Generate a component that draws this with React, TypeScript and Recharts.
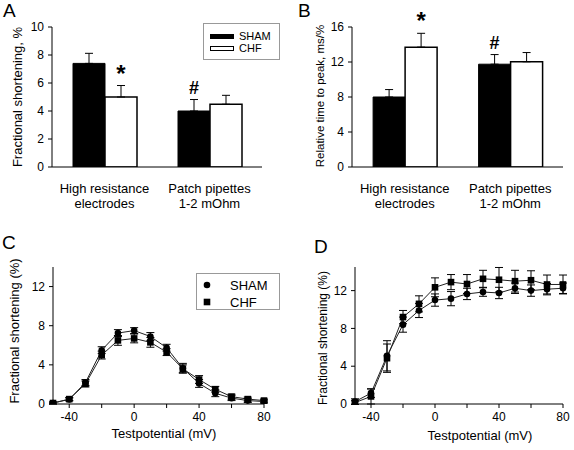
import React from "react";
import { Bar, BarChart, ErrorBar, LabelList, Legend, Line, LineChart, XAxis, YAxis } from "recharts";

const FONT = "'Liberation Sans', Arial, sans-serif";

// categories for panels A and B
const methods = ["High resistance\nelectrodes", "Patch pipettes\n1-2 mOhm"];

// A: fractional shortening, %
const fsSham = [7.4, 4.0];
const fsShamErr = [0.72, 0.82];
const fsChf = [5.0, 4.48];
const fsChfErr = [0.82, 0.64];
const fsShamMark = ["", "#"];
const fsChfMark = ["*", ""];

// B: relative time to peak, ms/%
const ttpSham = [8.0, 11.75];
const ttpShamErr = [0.85, 1.1];
const ttpChf = [13.7, 12.03];
const ttpChfErr = [1.58, 1.05];
const ttpShamMark = ["", "#"];
const ttpChfMark = ["*", ""];

// C and D: test potentials (mV)
const potentials = [-50, -40, -30, -20, -10, 0, 10, 20, 30, 40, 50, 60, 70, 80];
const cSham = [0.1, 0.47, 2.2, 5.5, 7.25, 7.5, 6.9, 5.75, 3.65, 2.1, 1.1, 0.6, 0.35, 0.25];
const cShamErr = [0.1, 0.15, 0.3, 0.35, 0.35, 0.3, 0.4, 0.35, 0.5, 0.4, 0.35, 0.25, 0.2, 0.15];
const cChf = [0.1, 0.5, 2.05, 5.0, 6.5, 6.7, 6.3, 5.3, 3.6, 2.5, 1.5, 0.75, 0.5, 0.35];
const cChfErr = [0.1, 0.15, 0.3, 0.4, 0.5, 0.45, 0.5, 0.35, 0.4, 0.4, 0.3, 0.25, 0.2, 0.15];
const dSham = [0.25, 1.15, 5.1, 8.4, 9.9, 11.0, 11.15, 11.65, 11.85, 11.75, 12.25, 12.0, 12.15, 12.25];
const dShamErr = [0.3, 0.45, 1.6, 0.8, 0.75, 0.65, 0.75, 0.6, 0.45, 0.6, 0.55, 0.6, 0.6, 0.55];
const dChf = [0.15, 0.8, 4.85, 9.2, 10.6, 12.35, 12.9, 12.7, 13.25, 13.15, 13.0, 13.1, 12.65, 12.65];
const dChfErr = [0.2, 0.8, 1.5, 0.7, 0.85, 1.0, 0.8, 1.0, 0.9, 1.3, 1.15, 1.0, 1.0, 1.0];

const xTicks = [-40, -20, 0, 20, 40, 60, 80];

function barRows(sham: number[], shamErr: number[], chf: number[], chfErr: number[], shamMark: string[], chfMark: string[]) {
  return methods.map((m, i) => ({
    method: m,
    sham: sham[i],
    shamErr: [0, shamErr[i]],
    chf: chf[i],
    chfErr: [0, chfErr[i]],
    shamMark: shamMark[i],
    chfMark: chfMark[i],
  }));
}

function lineRows(sham: number[], shamErr: number[], chf: number[], chfErr: number[]) {
  return potentials.map((v, i) => ({ v, sham: sham[i], shamErr: shamErr[i], chf: chf[i], chfErr: chfErr[i] }));
}

const dataA = barRows(fsSham, fsShamErr, fsChf, fsChfErr, fsShamMark, fsChfMark);
const dataB = barRows(ttpSham, ttpShamErr, ttpChf, ttpChfErr, ttpShamMark, ttpChfMark);
const dataC = lineRows(cSham, cShamErr, cChf, cChfErr);
const dataD = lineRows(dSham, dShamErr, dChf, dChfErr);

const numTick = { fill: "#000", fontSize: 12, fontFamily: FONT };

const MethodTick = (props: any) => {
  const { x, y, payload } = props;
  const [l1, l2] = String(payload.value).split("\n");
  return (
    <text x={x} y={y} textAnchor="middle" fontSize={13} fill="#000" fontFamily={FONT}>
      <tspan x={x} dy={26}>{l1}</tspan>
      <tspan x={x} dy={15}>{l2}</tspan>
    </text>
  );
};

// significance mark placed just above the error bar of a bar
const markContent = (vals: number[], errs: number[]) => (props: any) => {
  const { index, value } = props;
  if (!value) return null;
  const vb = props.viewBox || {};
  const x = props.x ?? vb.x;
  const y = props.y ?? vb.y;
  const w = props.width ?? vb.width;
  const h = props.height ?? vb.height;
  const top = y - (errs[index] * h) / vals[index];
  const star = value === "*";
  return (
    <text x={x + w / 2} y={top - (star ? 4 : 6)} textAnchor="middle" fontSize={star ? 24 : 18} fontWeight="bold" fontFamily={FONT} fill="#000">
      {value}
    </text>
  );
};

const SquareDot = (p: any) => {
  if (p.cx == null || p.cy == null) return null;
  return <rect key={p.key} x={p.cx - 3.3} y={p.cy - 3.3} width={6.6} height={6.6} fill="#000" />;
};

const BarLegend = () => (
  <div style={{ width: 77, height: 37, border: "1px solid #999", boxSizing: "border-box", background: "#fff" }}>
    <svg width={75} height={35} style={{ display: "block" }}>
      <rect x={6.5} y={10.5} width={23} height={4} fill="#000" stroke="#000" />
      <text x={35} y={16} fontSize={11} fontFamily={FONT} fill="#000">SHAM</text>
      <rect x={6.5} y={22.5} width={23} height={4} fill="#fff" stroke="#000" />
      <text x={35} y={28} fontSize={11} fontFamily={FONT} fill="#000">CHF</text>
    </svg>
  </div>
);

const LineLegend = () => (
  <div style={{ width: 84, height: 37, border: "1px solid #999", boxSizing: "border-box", background: "#fff" }}>
    <svg width={82} height={35} style={{ display: "block" }}>
      <circle cx={10} cy={11} r={3.3} fill="#000" />
      <text x={33} y={15.5} fontSize={13} fontFamily={FONT} fill="#000">SHAM</text>
      <rect x={6.7} y={24.7} width={6.6} height={6.6} fill="#000" />
      <text x={33} y={32.5} fontSize={13} fontFamily={FONT} fill="#000">CHF</text>
    </svg>
  </div>
);

function BarPanel(props: { data: any[]; yWidth: number; right: number; max: number; ticks: number[]; sham: number[]; shamErr: number[]; chf: number[]; chfErr: number[]; legend?: boolean }) {
  return (
    <BarChart
      width={287}
      height={225}
      data={props.data}
      margin={{ top: 27, right: props.right, left: 0, bottom: 18 }}
      barGap={0}
      barCategoryGap="20%"
    >
      <XAxis dataKey="method" tick={<MethodTick />} tickLine={false} tickSize={0} tickMargin={0} height={40} axisLine={{ stroke: "#000" }} interval={0} />
      <YAxis
        width={props.yWidth}
        domain={[0, props.max]}
        ticks={props.ticks}
        tick={numTick}
        tickSize={4}
        tickMargin={4}
        axisLine={{ stroke: "#000" }}
        tickLine={{ stroke: "#000" }}
        allowDataOverflow
      />
      {props.legend && (
        <Legend
          layout="horizontal"
          verticalAlign="middle"
          align="center"
          wrapperStyle={{ left: 203, top: 23, width: 77, height: 37 }}
          content={() => <BarLegend />}
        />
      )}
      <Bar dataKey="sham" name="SHAM" fill="#000" stroke="#000" strokeWidth={1} isAnimationActive={false}>
        <ErrorBar dataKey="shamErr" width={4} stroke="#000" strokeWidth={1} direction="y" />
        <LabelList dataKey="shamMark" content={markContent(props.sham, props.shamErr)} />
      </Bar>
      <Bar dataKey="chf" name="CHF" fill="#fff" stroke="#000" strokeWidth={1.5} isAnimationActive={false}>
        <ErrorBar dataKey="chfErr" width={4} stroke="#000" strokeWidth={1} direction="y" />
        <LabelList dataKey="chfMark" content={markContent(props.chf, props.chfErr)} />
      </Bar>
    </BarChart>
  );
}

function LinePanel(props: { data: any[]; yWidth: number; right: number; max: number; legend?: boolean }) {
  return (
    <LineChart width={287} height={225} data={props.data} margin={{ top: 42, right: props.right, left: 0, bottom: 16 }}>
      <XAxis
        dataKey="v"
        type="number"
        domain={[-50, 80]}
        ticks={xTicks}
        interval={0}
        tickFormatter={(v: number) => (v % 40 === 0 ? String(v) : "")}
        tick={numTick}
        tickSize={4}
        tickMargin={4}
        height={30}
        axisLine={{ stroke: "#000" }}
        tickLine={{ stroke: "#000" }}
      />
      <YAxis
        width={props.yWidth}
        domain={[0, props.max]}
        ticks={[0, 4, 8, 12]}
        tick={numTick}
        tickSize={4}
        tickMargin={4}
        axisLine={{ stroke: "#000" }}
        tickLine={{ stroke: "#000" }}
        allowDataOverflow
      />
      {props.legend && (
        <Legend
          layout="horizontal"
          verticalAlign="middle"
          align="center"
          wrapperStyle={{ left: 196, top: 48, width: 84, height: 37 }}
          content={() => <LineLegend />}
        />
      )}
      <Line dataKey="chf" name="CHF" stroke="#222" strokeWidth={1} dot={SquareDot} activeDot={false} isAnimationActive={false}>
        <ErrorBar dataKey="chfErr" width={4} stroke="#000" strokeWidth={1} direction="y" />
      </Line>
      <Line dataKey="sham" name="SHAM" stroke="#222" strokeWidth={1} dot={{ r: 3.3, fill: "#000", stroke: "#000", strokeWidth: 0 }} activeDot={false} isAnimationActive={false}>
        <ErrorBar dataKey="shamErr" width={4} stroke="#000" strokeWidth={1} direction="y" />
      </Line>
    </LineChart>
  );
}

const titleStyle = { fontFamily: FONT, fill: "#000" };

export default function App() {
  return (
    <div style={{ position: "absolute", left: 0, top: 0, width: 574, height: 450, background: "#fff", fontFamily: FONT }}>
      <div style={{ position: "absolute", left: 0, top: 0 }}>
        <BarPanel data={dataA} yWidth={52} right={25} max={10} ticks={[0, 2, 4, 6, 8, 10]} sham={fsSham} shamErr={fsShamErr} chf={fsChf} chfErr={fsChfErr} legend />
      </div>
      <div style={{ position: "absolute", left: 287, top: 0 }}>
        <BarPanel data={dataB} yWidth={65} right={11} max={16} ticks={[0, 4, 8, 12, 16]} sham={ttpSham} shamErr={ttpShamErr} chf={ttpChf} chfErr={ttpChfErr} />
      </div>
      <div style={{ position: "absolute", left: 0, top: 225 }}>
        <LinePanel data={dataC} yWidth={53} right={23} max={14} legend />
      </div>
      <div style={{ position: "absolute", left: 287, top: 225 }}>
        <LinePanel data={dataD} yWidth={68} right={11} max={14.5} />
      </div>
      <svg width={574} height={450} style={{ position: "absolute", left: 0, top: 0, pointerEvents: "none" }}>
        <text x={3} y={17} fontSize={19} {...titleStyle}>A</text>
        <text x={298} y={17} fontSize={19} {...titleStyle}>B</text>
        <text x={2} y={249} fontSize={19} {...titleStyle}>C</text>
        <text x={314} y={253} fontSize={19} {...titleStyle}>D</text>
        <text transform="translate(17,97) rotate(-90)" textAnchor="middle" dominantBaseline="central" fontSize={13} {...titleStyle}>
          Fractional shortening, %
        </text>
        <text transform="translate(320,96) rotate(-90)" textAnchor="middle" dominantBaseline="central" fontSize={11.5} {...titleStyle}>
          Relative time to peak, ms/%
        </text>
        <text transform="translate(14,331) rotate(-90)" textAnchor="middle" dominantBaseline="central" fontSize={13} {...titleStyle}>
          Fractional shortening (%)
        </text>
        <text transform="translate(323,338) rotate(-90)" textAnchor="middle" dominantBaseline="central" fontSize={12} {...titleStyle}>
          Fractional shortening (%)
        </text>
        <text x={164} y={438} textAnchor="middle" fontSize={13} {...titleStyle}>Testpotential (mV)</text>
        <text x={480} y={440} textAnchor="middle" fontSize={13} {...titleStyle}>Testpotential (mV)</text>
      </svg>
    </div>
  );
}
